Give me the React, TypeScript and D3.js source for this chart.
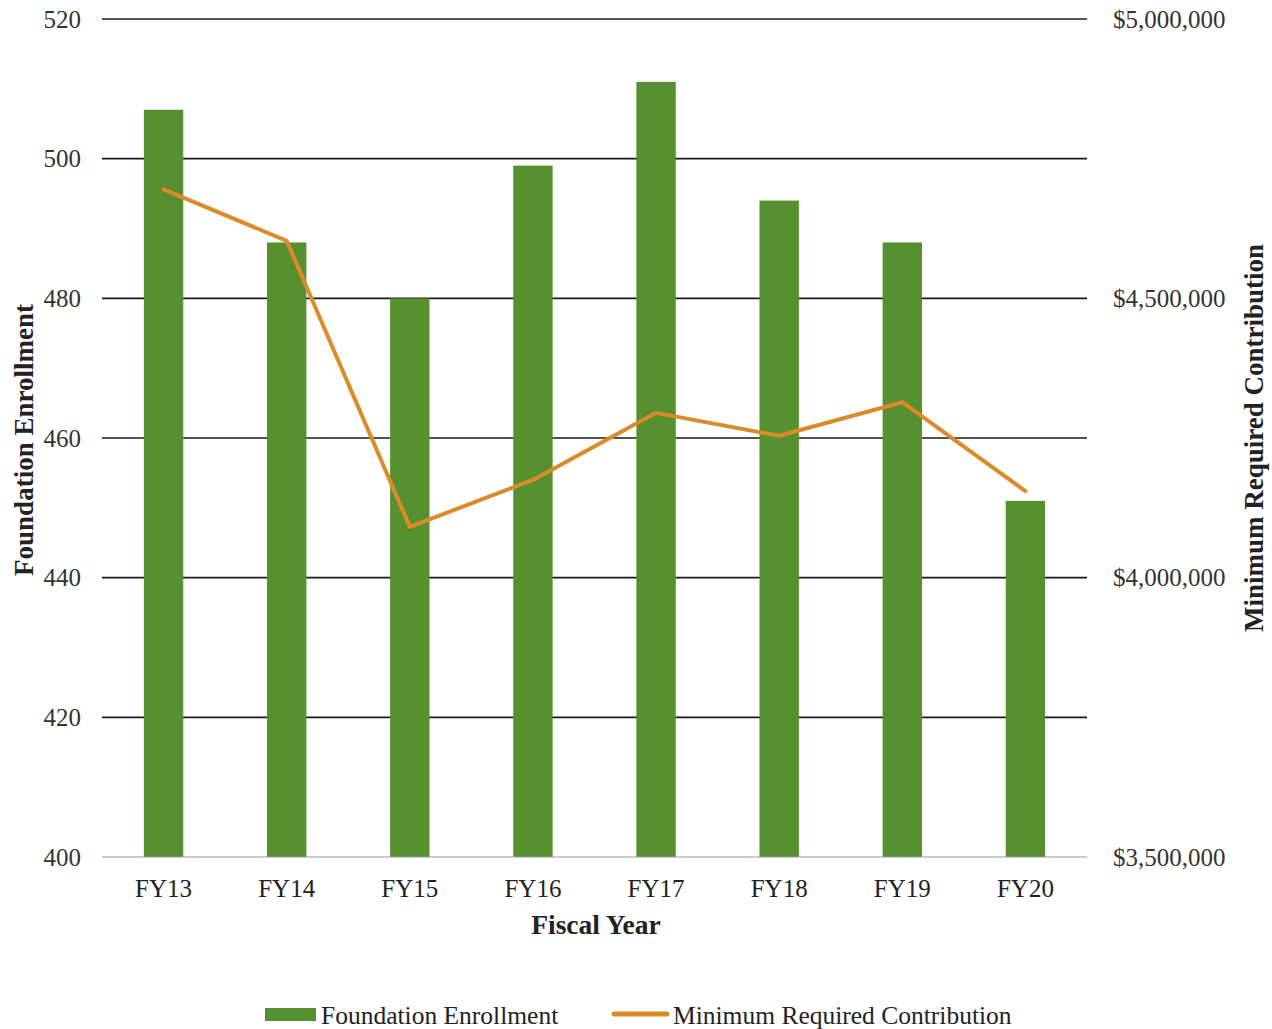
import React from "react";
import * as d3 from "d3";

// Fiscal years and the two series plotted against them
const fiscalYears = ["FY13", "FY14", "FY15", "FY16", "FY17", "FY18", "FY19", "FY20"];
const enrollment = [507, 488, 480, 499, 511, 494, 488, 451];
const minContribution = [4695000, 4603000, 4091000, 4175000, 4295000, 4254000, 4314000, 4155000];
const leftTicks = [400, 420, 440, 460, 480, 500, 520];
const rightTicks = [3500000, 4000000, 4500000, 5000000];

const W = 1272;
const H = 1029;
const plot = { left: 102, right: 1087, top: 19, bottom: 857 };

const GREEN = "#56902f";
const ORANGE = "#dc8b2a";
const FONT = "'Liberation Serif', 'Times New Roman', serif";

export default function App() {
  const x = d3
    .scaleBand<string>()
    .domain(fiscalYears)
    .range([plot.left, plot.right])
    .paddingInner(0.68)
    .paddingOuter(0.34);
  const yLeft = d3.scaleLinear().domain([400, 520]).range([plot.bottom, plot.top]);
  const yRight = d3.scaleLinear().domain([3500000, 5000000]).range([plot.bottom, plot.top]);
  const money = (v: number) => "$" + d3.format(",")(v);

  const linePath = d3
    .line<number>()
    .x((_, i) => (x(fiscalYears[i]) as number) + x.bandwidth() / 2)
    .y((v) => yRight(v))(minContribution) as string;

  return (
    <svg
      width={W}
      height={H}
      style={{ position: "absolute", left: 0, top: 0, background: "#fff" }}
      fontFamily={FONT}
    >
      <rect width={W} height={H} fill="#fff" />
      {/* horizontal gridlines */}
      {leftTicks.map((t) =>
        t === 400 ? null : (
          <line
            key={"g" + t}
            x1={plot.left}
            x2={plot.right}
            y1={yLeft(t)}
            y2={yLeft(t)}
            stroke="#1a1a1a"
            strokeWidth={1.6}
          />
        )
      )}
      {/* bars */}
      {fiscalYears.map((fy, i) => (
        <rect
          key={fy}
          x={x(fy)}
          y={yLeft(enrollment[i])}
          width={x.bandwidth()}
          height={plot.bottom - yLeft(enrollment[i])}
          fill={GREEN}
        />
      ))}
      {/* baseline */}
      <line
        x1={plot.left}
        x2={plot.right}
        y1={plot.bottom}
        y2={plot.bottom}
        stroke="#9a9a9a"
        strokeWidth={1.2}
      />
      {/* contribution line */}
      <path d={linePath} fill="none" stroke={ORANGE} strokeWidth={4} strokeLinejoin="round" strokeLinecap="round" />

      {/* left axis labels */}
      {leftTicks.map((t) => (
        <text key={"l" + t} x={81} y={yLeft(t)} dy="0.35em" textAnchor="end" fontSize={25} fill="#333">
          {t}
        </text>
      ))}
      {/* right axis labels */}
      {rightTicks.map((t) => (
        <text key={"r" + t} x={1113} y={yRight(t)} dy="0.35em" textAnchor="start" fontSize={25} fill="#333">
          {money(t)}
        </text>
      ))}
      {/* category labels */}
      {fiscalYears.map((fy) => (
        <text
          key={"x" + fy}
          x={(x(fy) as number) + x.bandwidth() / 2}
          y={897}
          textAnchor="middle"
          fontSize={25}
          fill="#222"
        >
          {fy}
        </text>
      ))}
      {/* axis titles */}
      <text x={596} y={934} textAnchor="middle" fontSize={27.5} fontWeight="bold" fill="#222">
        Fiscal Year
      </text>
      <text
        transform={`translate(33,440) rotate(-90)`}
        textAnchor="middle"
        fontSize={27}
        fontWeight="bold"
        fill="#222"
      >
        Foundation Enrollment
      </text>
      <text
        transform={`translate(1263,438) rotate(-90)`}
        textAnchor="middle"
        fontSize={27}
        fontWeight="bold"
        fill="#222"
      >
        Minimum Required Contribution
      </text>

      {/* legend */}
      <rect x={265} y={1008} width={51} height={13} fill={GREEN} />
      <text x={321} y={1024} fontSize={25.5} fill="#222">
        Foundation Enrollment
      </text>
      <line x1={614} x2={667} y1={1014} y2={1014} stroke={ORANGE} strokeWidth={5} strokeLinecap="round" />
      <text x={673} y={1024} fontSize={25.5} fill="#222">
        Minimum Required Contribution
      </text>
    </svg>
  );
}
